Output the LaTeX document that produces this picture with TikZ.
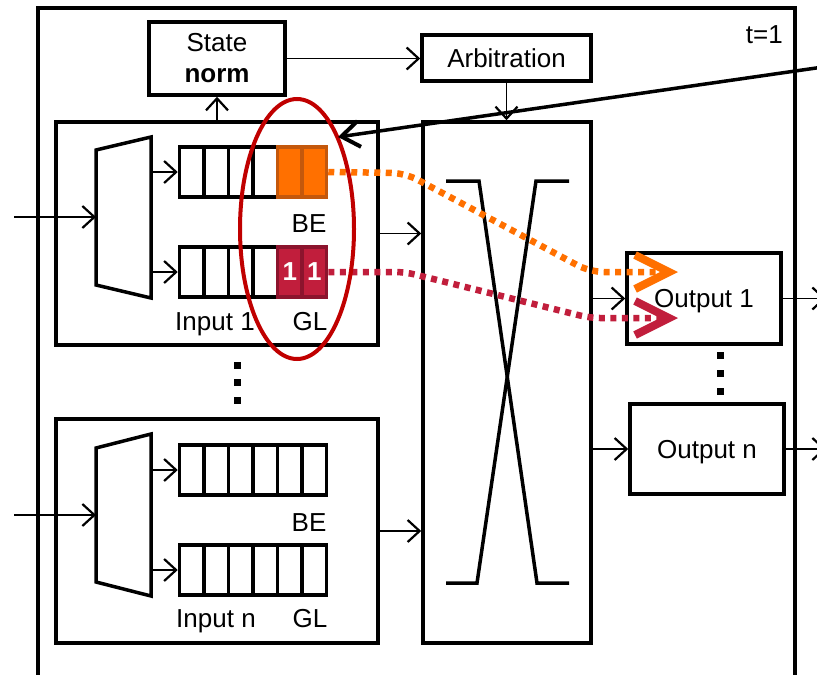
\documentclass[tikz,border=0pt]{standalone}
\usepackage{fontspec}
\setmainfont{Liberation Sans}
\usetikzlibrary{arrows.meta}
\definecolor{orA}{HTML}{FF7000}
\definecolor{orB}{HTML}{C4580C}
\definecolor{crA}{HTML}{C11E3C}
\definecolor{crB}{HTML}{8C142D}
\definecolor{elc}{HTML}{C00000}
\begin{document}
\begin{tikzpicture}[x=1pt,y=-1pt,
  every node/.style={font=\fontsize{26}{31}\selectfont, inner sep=0pt},
  box/.style={draw, line width=3.5pt, inner sep=0pt},
  cell/.style={draw, line width=3.5pt, minimum width=24.5pt, minimum height=50pt},
  ocell/.style={cell, fill=orA, draw=orB},
  ccell/.style={cell, fill=crA, draw=crB, text=white, font=\fontsize{26}{31}\selectfont\bfseries},
  trap/.style={line width=3.5pt, line join=miter},
  conn/.style={line width=1.8pt, -{Straight Barb[length=12pt,width=22pt,line width=2.2pt]}},
  bigarr/.style={line width=3.5pt, -{Straight Barb[length=18pt,width=26pt,line width=4pt]}},
  dotO/.style={draw=orA, line width=6.5pt, dash pattern=on 6pt off 5.5pt, -{Straight Barb[length=34pt,width=34pt,line width=8pt]}},
  dotC/.style={draw=crA, line width=6.5pt, dash pattern=on 6pt off 5.5pt, -{Straight Barb[length=34pt,width=34pt,line width=8pt]}},
  xl/.style={line width=3.5pt, line join=miter}]
\useasboundingbox (0,0) rectangle (817,675);
\clip (0,0) rectangle (817,675);

% outer frame
\draw[line width=3.5pt] (38,690) -- (38,8) -- (795,8) -- (795,690);
\node[anchor=base east] (tlab) at (783,43) {t=1};

% boxes
\node[box, minimum width=136pt, minimum height=73pt, align=center] (state) at (217,58.5) {State\\\textbf{norm}};
\node[box, minimum width=169pt, minimum height=46pt] (arb) at (506.5,58) {Arbitration};
\node[box, minimum width=168pt, minimum height=521pt] (xbar) at (507,382.5) {};
\node[box, minimum width=322pt, minimum height=223pt] (in1) at (217,233.5) {};
\node[box, minimum width=322pt, minimum height=224pt] (inn) at (217,531) {};
\node[box, minimum width=154pt, minimum height=91pt, text depth=0pt] (out1) at (704,298.5) {Output 1};
\node[box, minimum width=154pt, minimum height=90pt, text depth=0pt] (outn) at (707,449) {Output n};

% crossbar
\draw[xl] (446,181) -- (479,181) -- (537,583) -- (569,583);
\draw[xl] (569,181) -- (536,181) -- (477,583) -- (446,583);

% demultiplexers
\draw[trap] (96,150) -- (151,137) -- (151,298) -- (96,285) -- cycle;
\draw[trap] (96,448) -- (151,434) -- (151,596) -- (96,582) -- cycle;
\coordinate (d1in) at (96,217);
\coordinate (d1a) at (151,172);
\coordinate (d1b) at (151,272);
\coordinate (dnin) at (96,515);
\coordinate (dna) at (151,470);
\coordinate (dnb) at (151,570);

% queues
\foreach \i in {1,...,4} {
  \node[cell] (q1b\i) at ({179.5+24.5*(\i-0.5)},172) {};
  \node[cell] (q1g\i) at ({179.5+24.5*(\i-0.5)},272) {};
}
\foreach \i in {5,6} {
  \node[ocell] (q1b\i) at ({179.5+24.5*(\i-0.5)},172) {};
  \node[ccell] (q1g\i) at ({179.5+24.5*(\i-0.5)},272) {1};
}
\foreach \i in {1,...,6} {
  \node[cell] (qnb\i) at ({179.5+24.5*(\i-0.5)},470) {};
  \node[cell] (qng\i) at ({179.5+24.5*(\i-0.5)},570) {};
}

% labels
\node[anchor=base] (be1) at (309,232) {BE};
\node[anchor=base] (gl1) at (310,330) {GL};
\node[anchor=base] (il1) at (215,330) {Input 1};
\node[anchor=base] (ben) at (309,531) {BE};
\node[anchor=base] (gln) at (310,627) {GL};
\node[anchor=base] (iln) at (216,627) {Input n};

% vertical dots
\foreach \y in {365,382,400} \fill (233.5,\y-3.5) rectangle +(7,7);
\foreach \y in {355,373,391} \fill (716.5,\y-3.5) rectangle +(7,7);

% connectors
\coordinate (src1) at (14,217);
\coordinate (srcn) at (14,515);
\draw[conn] (src1) -- (d1in);
\draw[conn] (srcn) -- (dnin);
\draw[conn] (d1a) -- (q1b1.west);
\draw[conn] (d1b) -- (q1g1.west);
\draw[conn] (dna) -- (qnb1.west);
\draw[conn] (dnb) -- (qng1.west);
\draw[conn] (in1.north) -- (state.south);
\draw[conn] (state.east) -- (state.east -| arb.west);
\draw[conn] (arb.south) -- (arb.south |- xbar.north);
\draw[conn] (in1.east) -- (in1.east -| xbar.west);
\draw[conn] (inn.east) -- (inn.east -| xbar.west);
\draw[conn] (out1.west -| xbar.east) -- (out1.west);
\draw[conn] (outn.west -| xbar.east) -- (outn.west);
\coordinate (o1) at (826,298.5);
\coordinate (on) at (826,449);
\draw[conn] (out1.east) -- (o1);
\draw[conn] (outn.east) -- (on);

% packet paths
\coordinate (tipO) at (678,272);
\coordinate (tipC) at (678,318);
\draw[dotO, rounded corners=14pt] (q1b6.east) -- (405,173) -- (590,272) -- (tipO);
\draw[dotC, rounded corners=10pt] (q1g6.east) -- (405,272) -- (590,318) -- (tipC);

% highlight ellipse
\draw[elc, line width=4pt] (297,229) ellipse [x radius=57pt, y radius=130pt];

% pointer
\coordinate (ptrA) at (830,66);
\coordinate (ptrB) at (338,137);
\draw[bigarr] (ptrA) -- (ptrB);
\end{tikzpicture}
\end{document}
